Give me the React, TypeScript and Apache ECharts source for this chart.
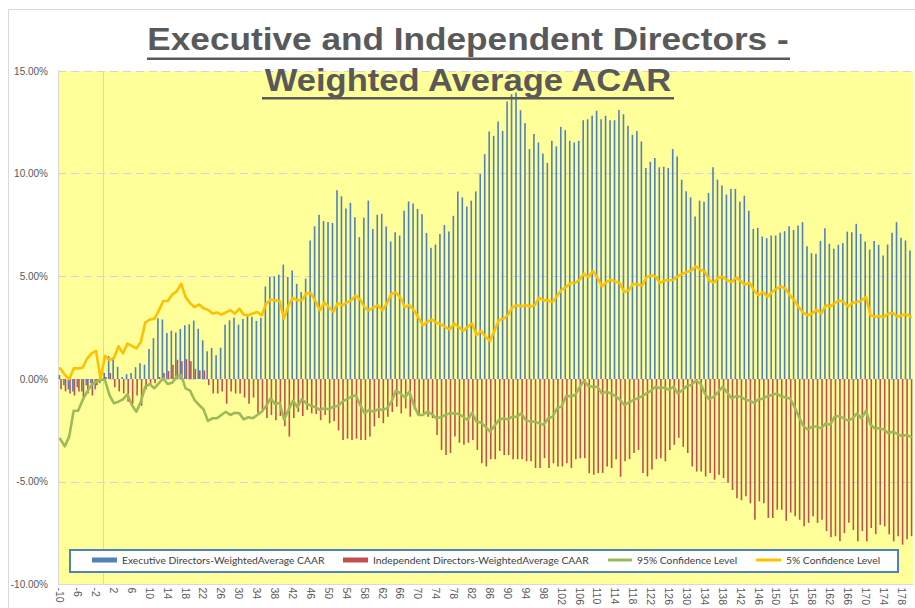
import React, { useEffect, useRef } from "react";
import * as echarts from "echarts";

// Event days -10 .. 180
const days: string[] = Array.from({ length: 191 }, (_, i) => String(i - 10));

const seriesNames = [
  "Executive Directors-WeightedAverage CAAR",
  "Independent Directors-WeightedAverage CAAR",
  "95% Confidence Level",
  "5% Confidence Level",
];

// values in percent
const execCAAR = [
  0.2, -0.3, -0.5, -0.6, -0.4, -0.6, -0.3, -0.2, -0.5, -0.2,
  0.3,
  1.12, 1.0, 0.6, 0.1, 0.24, 0.3, 0.58, 0.77, 0.7, 1.46,
  1.99, 2.96, 2.9, 2.25, 2.35, 2.27, 2.44, 2.62, 2.67, 2.85,
  2.45, 1.89, 1.36, 1.52, 1.16, 1.53, 2.65, 2.86, 2.99, 2.65,
  2.92, 3.06, 3.03, 2.83, 2.99, 4.51, 4.97, 5.0, 5.08, 5.57,
  4.97, 5.29, 4.64, 4.24, 4.89, 6.75, 7.44, 8.0, 7.7, 7.65,
  7.6, 9.2, 8.9, 8.3, 8.58, 7.88, 6.91, 7.85, 8.69, 7.31,
  8.0, 8.05, 7.43, 6.7, 7.15, 6.99, 8.2, 8.65, 8.55, 8.28,
  8.03, 7.11, 6.39, 6.55, 7.07, 7.5, 7.18, 7.95, 9.13, 8.85,
  8.4, 8.69, 9.14, 9.98, 10.95, 12.05, 11.84, 12.54, 12.08, 13.51,
  13.87, 13.95, 13.09, 12.46, 11.2, 11.93, 11.52, 10.98, 10.52, 11.6,
  11.33, 12.28, 12.12, 11.6, 11.52, 11.6, 12.6, 12.65, 12.82, 13.06,
  12.65, 12.82, 12.6, 12.6, 13.1, 12.9, 12.33, 11.89, 12.08, 11.57,
  10.28, 10.58, 10.76, 10.31, 10.34, 10.28, 11.2, 10.84, 9.71, 9.14,
  8.85, 7.91, 8.69, 8.64, 9.06, 10.31, 9.71, 9.42, 8.98, 9.26,
  9.26, 8.64, 8.93, 8.2, 7.31, 7.36, 6.94, 6.86, 6.99, 6.99,
  7.12, 7.2, 7.44, 7.26, 7.48, 7.64, 6.47, 6.13, 6.1, 6.72,
  7.35, 6.59, 6.34, 6.54, 6.62, 7.18, 7.15, 7.56, 7.07, 6.7,
  6.31, 6.72, 6.54, 6.02, 6.55, 7.12, 7.64, 6.88, 6.75, 6.26,
];

const indepCAAR = [
  -0.5, -0.6, -0.7, -0.8, -0.6, -0.9, -0.7, -0.8, -0.3, -0.1,
  0.1,
  0.3, -0.4, -0.6, -0.7, -1.1, -1.2, -0.8, -1.3, -0.5, -0.3,
  -0.2, 0.1, 0.3, 0.4, 0.7, 0.94, 0.87, 0.97, 0.87, 0.5,
  0.42, 0.42, -0.3, -0.7, -0.7, -0.6, -1.2, -0.6, -0.7, -0.7,
  -0.9, -1.2, -0.9, -1.65, -1.6, -1.9, -1.75, -2.0, -1.8, -2.3,
  -2.8, -1.9, -1.6, -1.8, -1.5, -1.67, -1.7, -2.0, -1.75, -2.15,
  -2.05, -2.5, -2.96, -2.9, -2.96, -2.9, -2.96, -2.96, -2.8, -2.3,
  -1.9, -2.15, -1.83, -1.6, -1.35, -1.67, -1.43, -1.83, -1.5, -1.75,
  -1.67, -1.83, -1.9, -2.72, -3.45, -3.7, -3.6, -2.8, -3.1, -3.2,
  -3.1, -2.96, -3.45, -4.1, -4.25, -3.9, -3.9, -3.5, -3.7, -3.7,
  -3.9, -3.9, -3.9, -4.0, -4.0, -4.33, -4.33, -3.85, -4.33, -4.1,
  -4.25, -4.25, -4.1, -4.33, -3.9, -3.85, -3.85, -4.58, -4.66, -4.58,
  -4.57, -4.25, -4.33, -3.9, -4.76, -4.0, -3.9, -3.6, -3.45, -4.57,
  -4.74, -4.4, -3.9, -3.85, -4.0, -3.45, -3.2, -2.86, -3.3, -3.6,
  -4.25, -4.5, -4.5, -4.74, -4.57, -4.9, -4.66, -4.82, -5.05, -5.4,
  -5.8, -5.9, -5.7, -6.05, -6.85, -5.95, -6.05, -6.76, -6.76, -6.36,
  -6.36, -6.9, -6.5, -6.68, -6.85, -7.17, -7.0, -6.68, -7.0, -6.85,
  -7.4, -7.7, -7.65, -7.9, -7.5, -7.0, -7.35, -7.9, -7.4, -7.9,
  -7.25, -7.55, -7.1, -7.17, -7.55, -7.9, -7.65, -8.06, -7.8, -7.65,
];

const ci95 = [
  -2.91, -3.28, -2.8, -1.54, -1.54, -1.02, -0.61, -0.29, -0.13, 0.0,
  -0.05,
  -0.78, -1.18, -1.1, -0.99, -0.74, -1.26, -1.59, -1.1, -0.37, -0.24,
  -0.45, -0.21, 0.03, -0.24, -0.18, 0.11, 0.19, -0.45, -0.56, -1.02,
  -1.26, -1.47, -2.04, -1.91, -1.91, -1.75, -1.59, -1.75, -1.64, -1.67,
  -1.96, -1.86, -1.91, -1.75, -1.59, -1.31, -0.94, -1.21, -1.15, -1.96,
  -1.5, -1.05, -1.37, -0.96, -1.2, -1.29, -1.37, -1.5, -1.42, -1.47,
  -1.34, -1.31, -1.1, -0.99, -0.86, -0.78, -1.26, -1.67, -1.5, -1.59,
  -1.47, -1.5, -1.42, -1.1, -0.56, -0.7, -0.89, -0.61, -1.26, -1.75,
  -1.75, -1.59, -1.7, -1.91, -1.86, -1.75, -1.67, -1.67, -1.7, -1.83,
  -1.99, -1.64, -2.07, -2.12, -2.31, -2.56, -2.28, -1.99, -1.91, -1.96,
  -1.83, -1.83, -1.67, -1.99, -2.07, -2.07, -2.15, -2.23, -1.91, -1.83,
  -1.42, -1.34, -0.83, -0.83, -0.78, -0.41, -0.08, -0.34, -0.37, -0.37,
  -0.7, -0.62, -0.7, -0.83, -0.99, -1.26, -1.15, -1.02, -0.94, -0.83,
  -0.7, -0.56, -0.37, -0.45, -0.41, -0.53, -0.37, -0.7, -0.53, -0.34,
  -0.29, -0.08, -0.21, -0.7, -0.99, -0.86, -0.62, -0.37, -0.66, -0.94,
  -0.83, -0.86, -0.99, -1.05, -1.15, -0.99, -0.94, -0.83, -0.78, -0.7,
  -0.83, -0.89, -0.94, -1.34, -1.83, -2.28, -2.45, -2.31, -2.31, -2.4,
  -2.15, -2.23, -1.83, -1.8, -1.91, -2.02, -1.91, -1.67, -1.91, -1.54,
  -2.23, -2.4, -2.4, -2.45, -2.64, -2.56, -2.67, -2.77, -2.72, -2.8,
];

const ci5 = [
  0.52, 0.22, 0.0, 0.52, 0.52, 0.55, 1.0, 1.25, 1.38, 0.0,
  1.13,
  0.92, 1.03, 1.6, 1.25, 1.73, 1.62, 1.49, 1.81, 2.75, 2.9,
  2.93, 3.32, 3.8, 3.8, 4.11, 4.27, 4.64, 4.0, 3.7, 3.5,
  3.63, 3.45, 3.37, 3.19, 3.24, 3.14, 3.25, 3.35, 3.19, 3.43,
  3.14, 3.11, 3.19, 3.27, 3.11, 3.67, 3.88, 3.83, 3.8, 2.94,
  3.59, 3.96, 3.83, 3.85, 4.18, 4.18, 3.8, 3.35, 3.72, 3.5,
  3.27, 3.7, 3.59, 3.72, 3.83, 4.06, 3.87, 3.48, 3.35, 3.5,
  3.59, 3.35, 3.7, 4.16, 4.21, 3.96, 3.5, 3.6, 3.35, 2.99,
  2.62, 2.79, 2.9, 2.75, 2.67, 2.54, 2.41, 2.7, 2.54, 2.35,
  2.54, 2.7, 2.14, 2.35, 2.06, 1.86, 2.35, 2.87, 2.94, 3.11,
  3.5, 3.59, 3.54, 3.59, 3.54, 3.6, 3.96, 3.83, 3.83, 3.75,
  4.06, 4.35, 4.48, 4.68, 4.68, 4.84, 5.13, 4.97, 5.26, 4.94,
  4.51, 4.72, 4.84, 4.75, 4.68, 4.24, 4.32, 4.64, 4.6, 4.56,
  4.97, 5.05, 5.0, 4.68, 4.81, 4.81, 4.84, 5.0, 5.13, 5.21,
  5.29, 5.49, 5.32, 5.24, 4.81, 4.69, 4.94, 4.97, 4.81, 4.72,
  4.94, 4.77, 4.61, 4.68, 4.32, 4.08, 4.24, 4.0, 4.24, 4.4,
  4.51, 4.4, 4.08, 3.83, 3.5, 3.22, 3.11, 3.19, 3.38, 3.19,
  3.59, 3.54, 3.7, 3.83, 3.75, 3.54, 3.72, 3.75, 3.83, 4.0,
  3.11, 3.03, 3.06, 3.03, 3.19, 3.22, 3.03, 3.11, 3.16, 3.03,
];

const titleLines = ["Executive and Independent Directors -", "Weighted Average ACAR"];

const COLORS = ["#4F81BD", "#C0504D", "#9BBB59", "#FFC000"];

export default function App() {
  const ref = useRef<HTMLDivElement>(null);

  useEffect(() => {
    if (!ref.current) return;
    const chart = echarts.init(ref.current, null, { renderer: "svg" });

    const legendText = {
      fontFamily: "Lato, 'Liberation Sans', sans-serif",
      fontSize: 10.3,
      color: "#404040",
    };

    const option: any = {
      animation: false,
      backgroundColor: "#ffffff",
      grid: {
        left: 58,
        right: 2,
        top: 71,
        bottom: 23,
        show: true,
        backgroundColor: "#FFFF99",
        borderWidth: 0,
      },
      legend: [
        { data: [seriesNames[0]], left: 92, top: 555, padding: 0, icon: "rect", itemWidth: 25, itemHeight: 5, textStyle: legendText, z: 20, selectedMode: false },
        { data: [seriesNames[1]], left: 343, top: 555, padding: 0, icon: "rect", itemWidth: 25, itemHeight: 5, textStyle: legendText, z: 20, selectedMode: false },
        { data: [seriesNames[2]], left: 608, top: 555, padding: 0, icon: "rect", itemWidth: 24, itemHeight: 3, textStyle: legendText, z: 20, selectedMode: false },
        { data: [seriesNames[3]], left: 756, top: 555, padding: 0, icon: "rect", itemWidth: 25, itemHeight: 3, textStyle: legendText, z: 20, selectedMode: false },
      ],
      xAxis: {
        type: "category",
        data: days,
        boundaryGap: true,
        axisLine: { onZero: false, lineStyle: { color: "#D9D9D9", width: 1 } },
        axisTick: { show: false },
        axisLabel: {
          interval: 3,
          rotate: -90,
          fontSize: 10.5,
          fontFamily: "'Liberation Sans', Arial, sans-serif",
          color: "#595959",
          margin: 3,
        },
        splitLine: { show: false },
      },
      yAxis: {
        type: "value",
        min: -10,
        max: 15,
        interval: 5,
        axisLine: { show: true, lineStyle: { color: "#D9D9D9", width: 1 } },
        axisTick: { show: false },
        axisLabel: {
          formatter: (v: number) => v.toFixed(2) + "%",
          fontSize: 10,
          fontFamily: "'Liberation Sans', Arial, sans-serif",
          color: "#595959",
          margin: 10,
        },
        splitLine: { show: true, lineStyle: { type: [8, 5], color: "#D2D4E0", width: 1 } },
      },
      series: [
        {
          name: seriesNames[0],
          type: "bar",
          data: execCAAR,
          barWidth: 1.6,
          barGap: "0%",
          itemStyle: { color: COLORS[0] },
          z: 2,
        },
        {
          name: seriesNames[1],
          type: "bar",
          data: indepCAAR,
          barWidth: 1.6,
          barGap: "0%",
          itemStyle: { color: COLORS[1] },
          z: 2,
        },
        {
          name: seriesNames[2],
          type: "line",
          data: ci95,
          symbol: "none",
          lineStyle: { color: COLORS[2], width: 2.6, cap: "round", join: "round" },
          itemStyle: { color: COLORS[2] },
          z: 3,
        },
        {
          name: seriesNames[3],
          type: "line",
          data: ci5,
          symbol: "none",
          lineStyle: { color: COLORS[3], width: 2.6, cap: "round", join: "round" },
          itemStyle: { color: COLORS[3] },
          z: 3,
        },
      ],
    };

    chart.setOption(option);

    // divider between day -1 and day 0, computed from the category axis
    const xa = chart.convertToPixel({ xAxisIndex: 0 }, "-1") as number;
    const xb = chart.convertToPixel({ xAxisIndex: 0 }, "0") as number;
    const yTop = chart.convertToPixel({ yAxisIndex: 0 }, 15) as number;
    const yBot = chart.convertToPixel({ yAxisIndex: 0 }, -10) as number;
    const xDiv = Math.round((xa + xb) / 2) + 0.5;

    const titleFont = "bold 32px 'Liberation Sans', Arial, sans-serif";
    const cx = 468;

    chart.setOption({
      graphic: [
        {
          type: "rect",
          z: -10,
          silent: true,
          shape: { x: 8.5, y: 9.5, width: 1000, height: 700 },
          style: { fill: "none", stroke: "#D9D9D9", lineWidth: 1 },
        },
        {
          type: "line",
          z: 1,
          silent: true,
          shape: { x1: xDiv, y1: yTop, x2: xDiv, y2: yBot },
          style: { stroke: "#D4D4D4", lineWidth: 1 },
        },
        {
          type: "text",
          z: 50,
          x: cx,
          y: 39.5,
          scaleX: 1.1,
          style: { text: titleLines[0], font: titleFont, fill: "#595959", align: "center", verticalAlign: "middle" },
        },
        {
          type: "rect",
          z: 50,
          shape: { x: 147, y: 57.5, width: 643, height: 2.6 },
          style: { fill: "#595959" },
        },
        {
          type: "text",
          z: 50,
          x: cx,
          y: 79.5,
          scaleX: 1.08,
          style: { text: titleLines[1], font: titleFont, fill: "#595959", align: "center", verticalAlign: "middle" },
        },
        {
          type: "rect",
          z: 50,
          shape: { x: 262, y: 97, width: 412, height: 2.6 },
          style: { fill: "#595959" },
        },
        {
          type: "rect",
          z: 10,
          shape: { x: 70, y: 550, width: 828, height: 22 },
          style: { fill: "#ffffff", stroke: "#4F81BD", lineWidth: 2 },
        },
      ],
    });

    return () => {
      chart.dispose();
    };
  }, []);

  return (
    <div
      ref={ref}
      style={{ position: "absolute", left: 0, top: 0, width: 915, height: 608 }}
    />
  );
}
